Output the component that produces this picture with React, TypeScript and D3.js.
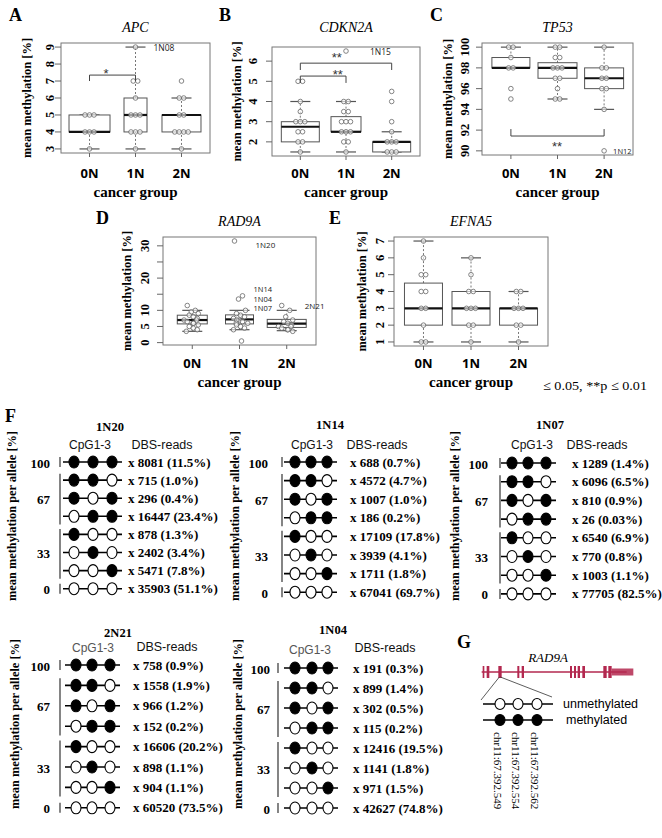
import React from 'react';
import * as d3 from 'd3';

const serif = '"Liberation Serif", "Times New Roman", serif';
const sans = '"Liberation Sans", Arial, sans-serif';
const cal = '"Open Sans", sans-serif';

const groups = ['0N', '1N', '2N'];

// ---- Panel A: APC ----
const apcPoints = [
  [3, 4, 4, 4, 5, 5, 5],
  [9, 7, 7, 6, 5, 5, 5, 4, 4, 4, 3],
  [7, 6, 6, 5, 5, 4, 4, 4, 4, 3],
];
const apcBox = [[3, 4, 4, 5, 5], [3, 4, 5, 6, 9], [3, 4, 5, 5, 6]];
const apcTicks = [3, 4, 5, 6, 7, 8, 9];

// ---- Panel B: CDKN2A ----
const cdkn2aPoints = [
  [5, 5, 4, 3.5, 3, 3, 3, 2.5, 2.5, 2, 2, 1.5],
  [6.5, 4, 4, 3.5, 3.5, 3, 3, 3, 2.5, 2.5, 2.5, 2, 2, 1.5],
  [4.5, 4, 3, 2.5, 2, 2, 2, 1.5, 1.5, 1.5],
];
const cdkn2aBox = [[1.5, 2, 2.75, 3, 4], [1.5, 2.5, 2.5, 3.25, 4], [1.5, 1.5, 2, 2, 2.5]];
const cdkn2aTicks = [2, 3, 4, 5, 6];

// ---- Panel C: TP53 ----
const tp53Points = [
  [100, 100, 99, 98, 98, 96, 95],
  [100, 100, 99, 99, 98, 98, 98, 97, 97, 96, 95, 95],
  [100, 98, 98, 97, 97, 96, 96, 94, 90],
];
const tp53Box = [[98, 98, 98, 99, 100], [95, 97, 98, 98.5, 100], [94, 96, 97, 98, 100]];
const tp53Ticks = [90, 92, 94, 96, 98, 100];

// ---- Panel D: RAD9A ----
const rad9aPoints = [
  [11.5, 10, 9.5, 9, 8.5, 8, 7.5, 7, 7, 6.5, 6, 6, 5.5, 5, 4.5, 4, 3.5],
  [31.5, 14.5, 13.5, 10, 9, 8.5, 8, 7.5, 7, 7, 6.5, 6, 6, 5.5, 5, 4.5, 4, 0.5],
  [11.5, 10, 8, 7, 6.5, 6, 5.5, 5, 5, 4.5, 4, 4, 3.5],
];
const rad9aBox = [[3.5, 5.8, 7, 8.5, 10], [4, 5.8, 7.2, 8.6, 10], [3.7, 4.7, 5.9, 7.2, 10]];
const rad9aTicks = [0, 5, 10, 15, 20, 25, 30];
const rad9aTickLabels = [0, 5, 10, 20, 30];

// ---- Panel E: EFNA5 ----
const efna5Points = [
  [7, 6, 5, 5, 4, 4, 3, 3, 2, 1, 1],
  [6, 5, 4, 4, 3, 3, 3, 2, 2, 1],
  [4, 4, 3, 3, 3, 2, 2, 1],
];
const efna5Box = [[1, 2, 3, 4.5, 7], [1, 2, 3, 4, 6], [1, 2, 3, 3, 4]];
const efna5Ticks = [1, 2, 3, 4, 5, 6, 7];

// ---- Panel F: allele patterns ----
const alleleSamples = ['1N20', '1N14', '1N07', '2N21', '1N04'];
const allelePatterns = [[1, 1, 1], [1, 1, 0], [1, 0, 1], [0, 1, 1], [1, 0, 0], [0, 1, 0], [0, 0, 1], [0, 0, 0]];
const methLevels = ['100', '67', '33', '0'];
const methLevelRows = [0, 2, 5, 7];
const reads1N20 = [8081, 715, 296, 16447, 878, 2402, 5471, 35903];
const pct1N20 = ['11.5', '1.0', '0.4', '23.4', '1.3', '3.4', '7.8', '51.1'];
const reads1N14 = [688, 4572, 1007, 186, 17109, 3939, 1711, 67041];
const pct1N14 = ['0.7', '4.7', '1.0', '0.2', '17.8', '4.1', '1.8', '69.7'];
const reads1N07 = [1289, 6096, 810, 26, 6540, 770, 1003, 77705];
const pct1N07 = ['1.4', '6.5', '0.9', '0.03', '6.9', '0.8', '1.1', '82.5'];
const reads2N21 = [758, 1558, 966, 152, 16606, 898, 904, 60520];
const pct2N21 = ['0.9', '1.9', '1.2', '0.2', '20.2', '1.1', '1.1', '73.5'];
const reads1N04 = [191, 899, 302, 115, 12416, 1141, 971, 42627];
const pct1N04 = ['0.3', '1.4', '0.5', '0.2', '19.5', '1.8', '1.5', '74.8'];
const allReads = [reads1N20, reads1N14, reads1N07, reads2N21, reads1N04];
const allPct = [pct1N20, pct1N14, pct1N07, pct2N21, pct1N04];

// ---- Panel G: gene model ----
const rad9aExons = [[128, 133], [140, 148], [175, 185], [232, 238], [245, 252], [390, 396], [402, 408], [413, 420], [427, 435], [490, 500], [505, 515]];
const rad9aUTR = [515, 580];
const cpgSites = ['chr11:67.392.549', 'chr11:67.392.554', 'chr11:67.392.562'];

// ---------------- layouts ----------------
const panels = [
  {
    letter: 'A', lx: 9, ly: 21, title: 'APC', titleY: 32, left: 61, right: 210, top: 43, bottom: 153,
    domain: [2.76, 9.24], ticks: apcTicks, tickLabels: apcTicks, tickLabelX: 50, ylabelX: 27,
    points: apcPoints, box: apcBox, boxW: [41, 23, 39], xTickY: 173, groupY: 192,
    brackets: [{ a: 1, b: 2, v: 7.35, end: 7.0, lv: 7.59, lc: 1.36, text: '*' }],
    notes: [{ g: 2, v: 9, dx: 18, text: '1N08', size: 8.5 }],
  },
  {
    letter: 'B', lx: 219, ly: 21, title: 'CDKN2A', titleY: 32, left: 272, right: 420, top: 47, bottom: 156,
    domain: [1.3, 6.7], ticks: cdkn2aTicks, tickLabels: cdkn2aTicks, tickLabelX: 253, ylabelX: 237,
    points: cdkn2aPoints, box: cdkn2aBox, boxW: [38, 30, 38], xTickY: 173, groupY: 192,
    brackets: [
      { a: 1, b: 3, v: 5.9, end: 5.56, lv: 6.3, lc: 1.8, text: '**' },
      { a: 1, b: 2, v: 5.26, end: 4.92, lv: 5.46, lc: 1.82, text: '**' },
    ],
    notes: [{ g: 2, v: 6.5, dx: 24, text: '1N15', size: 8.5 }],
  },
  {
    letter: 'C', lx: 430, ly: 21, title: 'TP53', titleY: 32, left: 482, right: 633, top: 43, bottom: 155,
    domain: [89.6, 100.4], ticks: tp53Ticks, tickLabels: tp53Ticks, tickLabelX: 465, ylabelX: 448,
    points: tp53Points, box: tp53Box, boxW: [38, 39, 39], xTickY: 173, groupY: 192,
    brackets: [{ a: 1, b: 3, v: 91.43, end: 92.1, lv: 90.66, lc: 1.99, text: '**' }],
    notes: [{ g: 3, v: 90, dx: 9, text: '1N12', size: 7.5 }],
  },
  {
    letter: 'D', lx: 96, ly: 224, title: 'RAD9A', titleY: 226, left: 163, right: 316, top: 237, bottom: 345,
    domain: [-0.74, 32.74], ticks: rad9aTicks, tickLabels: rad9aTickLabels, tickLabelX: 145, ylabelX: 127,
    points: rad9aPoints, box: rad9aBox, boxW: [30, 28, 39], xTickY: 363, groupY: 382,
    spread: [-5, 3, -1, 6, -3, 1, 5, -6, 2],
    brackets: [],
    notes: [
      { g: 2, v: 30.5, dx: 16, text: '1N20', size: 8 },
      { g: 2, v: 16.6, dx: 14, text: '1N14', size: 7.5 },
      { g: 2, v: 13.6, dx: 14, text: '1N04', size: 7.5 },
      { g: 2, v: 10.6, dx: 14, text: '1N07', size: 7.5 },
      { g: 3, v: 11.6, dx: 18, text: '2N21', size: 8 },
    ],
  },
  {
    letter: 'E', lx: 329, ly: 224, title: 'EFNA5', titleY: 226, left: 394, right: 548, top: 237, bottom: 346,
    domain: [0.76, 7.24], ticks: efna5Ticks, tickLabels: efna5Ticks, tickLabelX: 380, ylabelX: 362,
    points: efna5Points, box: efna5Box, boxW: [38, 38, 38], xTickY: 363, groupY: 382,
    brackets: [], notes: [],
  },
];

const fLayouts = [
  { title: [110, 427], cpg: [90, 445], dbs: [162, 445], y0: 462, dy: 18.1, cx: [74, 93, 112], bar: 60, tx: 128, lx: 50, yl: [12, 516], gray: false },
  { title: [330, 425], cpg: [312, 445], dbs: [377, 445], y0: 462, dy: 18.6, cx: [295, 311, 327], bar: 282, tx: 350, lx: 268, yl: [235, 516], gray: false },
  { title: [550, 425], cpg: [532, 445], dbs: [597, 445], y0: 463, dy: 18.7, cx: [512, 528, 546], bar: 500, tx: 572, lx: 488, yl: [455, 516], gray: false },
  { title: [118, 633], cpg: [93, 648], dbs: [167, 647], y0: 665, dy: 20.4, cx: [76, 92, 110], bar: 60, tx: 133, lx: 50, yl: [15, 724], gray: true },
  { title: [333, 630], cpg: [310, 650], dbs: [385, 648], y0: 668, dy: 20, cx: [295, 312, 328], bar: 278, tx: 353, lx: 270, yl: [238, 724], gray: true },
];

function offsets(vals: number[], spacing: number, spread?: number[]) {
  const counts = new Map<number, number>();
  const seen = new Map<number, number>();
  vals.forEach((v) => counts.set(v, (counts.get(v) || 0) + 1));
  return vals.map((v, i) => {
    const n = counts.get(v) || 1;
    const k = seen.get(v) || 0;
    seen.set(v, k + 1);
    return (k - (n - 1) / 2) * spacing + (spread ? spread[i % spread.length] : 0);
  });
}

function BoxPanel({ p }: { p: any }) {
  const x = d3.scaleLinear().domain([0.38, 3.62]).range([p.left, p.right]);
  const y = d3.scaleLinear().domain(p.domain).range([p.bottom, p.top]);
  const mid = (p.left + p.right) / 2;
  const midY = (p.top + p.bottom) / 2;
  const boxStroke = '#555';
  return (
    <g>
      <text x={p.lx} y={p.ly} fontFamily={serif} fontWeight="bold" fontSize={18}>{p.letter}</text>
      <text x={mid} y={p.titleY} textAnchor="middle" fontFamily={serif} fontStyle="italic" fontSize={14}>{p.title}</text>
      {p.box.map((b: number[], i: number) => {
        const cx = x(i + 1);
        const w = p.boxW[i];
        const cap = 10;
        return (
          <g key={'b' + i}>
            <line x1={cx} x2={cx} y1={y(b[0])} y2={y(b[1])} stroke="#777" strokeWidth={1} strokeDasharray="2,2" />
            <line x1={cx} x2={cx} y1={y(b[3])} y2={y(b[4])} stroke="#777" strokeWidth={1} strokeDasharray="2,2" />
            <line x1={cx - cap} x2={cx + cap} y1={y(b[0])} y2={y(b[0])} stroke={boxStroke} strokeWidth={1.2} />
            <line x1={cx - cap} x2={cx + cap} y1={y(b[4])} y2={y(b[4])} stroke={boxStroke} strokeWidth={1.2} />
            <rect x={cx - w / 2} y={y(b[3])} width={w} height={Math.max(0.5, y(b[1]) - y(b[3]))} fill="#fff" stroke={boxStroke} strokeWidth={1} />
            <line x1={cx - w / 2} x2={cx + w / 2} y1={y(b[2])} y2={y(b[2])} stroke="#111" strokeWidth={2.2} />
          </g>
        );
      })}
      {p.points.map((vals: number[], i: number) => {
        const offs = offsets(vals, 4.5, p.spread);
        return vals.map((v, j) => (
          <circle key={'p' + i + '-' + j} cx={x(i + 1) + offs[j]} cy={y(v)} r={2.3} fill="#fff" fillOpacity={0.6} stroke="#666" strokeWidth={0.8} />
        ));
      })}
      <rect x={p.left} y={p.top} width={p.right - p.left} height={p.bottom - p.top} fill="none" stroke="#777" strokeWidth={1} />
      {p.ticks.map((t: number) => (
        <line key={'yt' + t} x1={p.left - 6} x2={p.left} y1={y(t)} y2={y(t)} stroke="#666" strokeWidth={1} />
      ))}
      {p.tickLabels.map((t: number) => (
        <text key={'yl' + t} transform={`translate(${p.tickLabelX},${y(t)}) rotate(-90)`} textAnchor="middle" dominantBaseline="central"
          fontFamily={serif} fontWeight="bold" fontSize={12.5}>{t}</text>
      ))}
      {groups.map((g, i) => (
        <g key={'xt' + g}>
          <line x1={x(i + 1)} x2={x(i + 1)} y1={p.bottom} y2={p.bottom + 4} stroke="#666" strokeWidth={1} />
          <text x={x(i + 1)} y={p.xTickY} textAnchor="middle" dominantBaseline="central" fontFamily={cal} fontWeight={700} fontSize={13}>{g}</text>
        </g>
      ))}
      <text transform={`translate(${p.ylabelX},${midY}) rotate(-90)`} textAnchor="middle" dominantBaseline="central"
        fontFamily={serif} fontWeight="bold" fontSize={12.5}>mean methylation [%]</text>
      <text x={mid} y={p.groupY} textAnchor="middle" dominantBaseline="central" fontFamily={serif} fontWeight="bold" fontSize={15}>cancer group</text>
      {p.brackets.map((br: any, k: number) => {
        const xa = x(br.a), xb = x(br.b);
        return (
          <g key={'br' + k}>
            <path d={`M${xa},${y(br.end)}V${y(br.v)}H${xb}V${y(br.end)}`} fill="none" stroke="#444" strokeWidth={1} />
            <text x={x(br.lc)} y={y(br.lv) + 6.5} textAnchor="middle" fontFamily={sans} fontSize={13} fill="#333">{br.text}</text>
          </g>
        );
      })}
      {p.notes.map((n: any, k: number) => (
        <text key={'n' + k} x={x(n.g) + n.dx} y={y(n.v)} dominantBaseline="central" fontFamily={cal} fontSize={n.size} fill="#222">{n.text}</text>
      ))}
    </g>
  );
}

function AllelePanel({ idx }: { idx: number }) {
  const L = fLayouts[idx];
  const reads = allReads[idx];
  const pct = allPct[idx];
  const rowY = (r: number) => L.y0 + r * L.dy;
  const bars = [
    [rowY(0) - 5, rowY(0) + 5],
    [rowY(1) - 0.35 * L.dy, rowY(3) + 0.45 * L.dy],
    [rowY(4) - 0.3 * L.dy, rowY(6) + 0.45 * L.dy],
    [rowY(7) - 5, rowY(7) + 5],
  ];
  return (
    <g>
      <text x={L.title[0]} y={L.title[1]} textAnchor="middle" dominantBaseline="central" fontFamily={serif} fontWeight="bold" fontSize={12.5}>{alleleSamples[idx]}</text>
      <text x={L.cpg[0]} y={L.cpg[1]} textAnchor="middle" dominantBaseline="central" fontFamily={sans} fontSize={12} fill={L.gray ? '#555' : '#111'}>CpG1-3</text>
      <text x={L.dbs[0]} y={L.dbs[1]} textAnchor="middle" dominantBaseline="central" fontFamily={sans} fontSize={12.5} fill="#111">DBS-reads</text>
      <text transform={`translate(${L.yl[0]},${L.yl[1]}) rotate(-90)`} textAnchor="middle" dominantBaseline="central"
        fontFamily={serif} fontWeight="bold" fontSize={12} textLength={170} lengthAdjust="spacingAndGlyphs">mean methylation per allele [%]</text>
      {bars.map((b, k) => (
        <line key={'bar' + k} x1={L.bar} x2={L.bar} y1={b[0]} y2={b[1]} stroke="#333" strokeWidth={1.2} />
      ))}
      {methLevels.map((m, k) => (
        <text key={'ml' + k} x={L.lx} y={rowY(methLevelRows[k]) + 1} textAnchor="end" dominantBaseline="central" fontFamily={serif} fontWeight="bold" fontSize={13}>{m}</text>
      ))}
      {allelePatterns.map((pat, r) => (
        <g key={'row' + r}>
          <line x1={L.cx[0] - 11} x2={L.cx[2] + 10} y1={rowY(r)} y2={rowY(r)} stroke="#000" strokeWidth={1.6} />
          {pat.map((m, c) => (
            <ellipse key={'c' + c} cx={L.cx[c]} cy={rowY(r)} rx={5} ry={6} fill={m ? '#000' : '#fff'} stroke="#000" strokeWidth={1.1} />
          ))}
          <text x={L.tx} y={rowY(r)} dominantBaseline="central" fontFamily={serif} fontWeight="bold" fontSize={13}>{`x ${reads[r]} (${pct[r]}%)`}</text>
        </g>
      ))}
    </g>
  );
}

function GenePanel() {
  const gx = d3.scaleLinear().domain([120, 585]).range([480, 635]);
  const gy = 672;
  const red = '#b3284f';
  const rowU = 704, rowM = 720;
  const cx = [500, 518, 537];
  return (
    <g>
      <text x={457} y={648} fontFamily={serif} fontWeight="bold" fontSize={18}>G</text>
      <text x={548} y={657} textAnchor="middle" dominantBaseline="central" fontFamily={serif} fontStyle="italic" fontSize={13}>RAD9A</text>
      <line x1={gx(125)} x2={gx(560)} y1={gy} y2={gy} stroke={red} strokeWidth={1.3} />
      {rad9aExons.map((e, i) => (
        <rect key={'ex' + i} x={gx(e[0])} y={gy - 6} width={gx(e[1]) - gx(e[0])} height={12} fill={red} />
      ))}
      <rect x={gx(rad9aUTR[0])} y={gy - 3.5} width={gx(rad9aUTR[1]) - gx(rad9aUTR[0])} height={7} fill={red} opacity={0.85} />
      <line x1={gx(178)} x2={481} y1={gy + 5} y2={700} stroke="#333" strokeWidth={0.8} />
      <line x1={gx(181)} x2={552} y1={gy + 5} y2={697} stroke="#333" strokeWidth={0.8} />
      {[rowU, rowM].map((ry, r) => (
        <g key={'g' + r}>
          <line x1={483} x2={553} y1={ry} y2={ry} stroke="#000" strokeWidth={1.6} />
          {cx.map((c, k) => (
            <ellipse key={k} cx={c} cy={ry} rx={5} ry={5.5} fill={r === 0 ? '#fff' : '#000'} stroke="#000" strokeWidth={1.1} />
          ))}
        </g>
      ))}
      <text x={563} y={rowU} dominantBaseline="central" fontFamily={sans} fontSize={12.5}>unmethylated</text>
      <text x={566} y={rowM} dominantBaseline="central" fontFamily={sans} fontSize={12.5}>methylated</text>
      {cpgSites.map((s, k) => (
        <text key={s} transform={`translate(${cx[k] - 2},${732}) rotate(90)`} dominantBaseline="central" fontFamily={serif} fontSize={11}>{s}</text>
      ))}
    </g>
  );
}

export default function App() {
  return (
    <svg width={662} height={838} viewBox="0 0 662 838" style={{ position: 'absolute', left: 0, top: 0, background: '#fff' }}>
      <rect width={662} height={838} fill="#fff" />
      {panels.map((p) => <BoxPanel key={p.letter} p={p} />)}
      <text x={543} y={390} fontFamily={serif} fontSize={13} textLength={104} lengthAdjust="spacingAndGlyphs">≤ 0.05, **p ≤ 0.01</text>
      <text x={5} y={422} fontFamily={serif} fontWeight="bold" fontSize={18}>F</text>
      {fLayouts.map((_, i) => <AllelePanel key={i} idx={i} />)}
      <GenePanel />
    </svg>
  );
}
